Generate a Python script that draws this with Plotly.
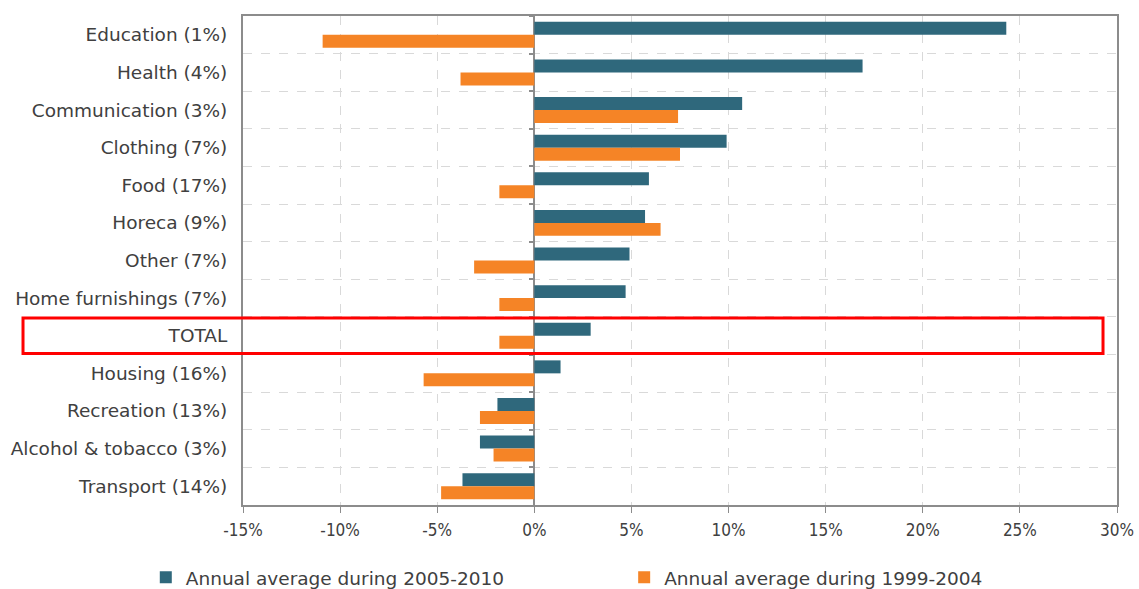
import plotly.graph_objects as go

categories = ["Education (1%)", "Health (4%)", "Communication (3%)", "Clothing (7%)",
              "Food (17%)", "Horeca (9%)", "Other (7%)", "Home furnishings (7%)",
              "TOTAL", "Housing (16%)", "Recreation (13%)", "Alcohol &amp; tobacco (3%)",
              "Transport (14%)"]
avg_2005_2010 = [24.3, 16.9, 10.7, 9.9, 5.9, 5.7, 4.9, 4.7, 2.9, 1.35, -1.9, -2.8, -3.7]
avg_1999_2004 = [-10.9, -3.8, 7.4, 7.5, -1.8, 6.5, -3.1, -1.8, -1.8, -5.7, -2.8, -2.1, -4.8]
x_ticks = [-15, -10, -5, 0, 5, 10, 15, 20, 25, 30]
x_tick_labels = [f"{t}%" for t in x_ticks]
x_range = [-15, 30]
highlight = "TOTAL"

TEAL = "#2F687C"
ORANGE = "#F58426"
FONT = "DejaVu Sans"
FONT_C = "DejaVu Sans Condensed"
FS = 18.5
TXT = "#404040"
AXC = "#8C8C8C"

n = len(categories)
y_range = [n - 0.5, -0.5]

fig = go.Figure()
fig.add_trace(go.Bar(y=categories, x=avg_2005_2010, orientation="h",
                     name="Annual average during 2005-2010", legend="legend",
                     marker=dict(color=TEAL, line=dict(width=0))))
fig.add_trace(go.Bar(y=categories, x=avg_1999_2004, orientation="h",
                     name="Annual average during 1999-2004", legend="legend2",
                     marker=dict(color=ORANGE, line=dict(width=0))))
# invisible helper trace so the category tick marks can sit on the zero line
fig.add_trace(go.Scatter(y=categories, x=[0] * n, yaxis="y2",
                         mode="markers", marker=dict(opacity=0, size=1),
                         showlegend=False, hoverinfo="skip"))

idx = categories.index(highlight)
fig.add_shape(type="rect", xref="paper", yref="y",
              x0=-0.2517, x1=0.984, y0=idx - 0.47, y1=idx + 0.47,
              line=dict(color="#FF0000", width=3), fillcolor="rgba(0,0,0,0)")

leg_common = dict(orientation="h", xref="container", yref="container",
                  xanchor="left", y=0.019, yanchor="middle",
                  font=dict(family=FONT, size=FS, color=TXT),
                  itemwidth=30, bgcolor="rgba(0,0,0,0)")

zero_pos = (0 - x_range[0]) / (x_range[1] - x_range[0])

fig.update_layout(
    width=1139, height=589,
    margin=dict(l=243, r=22, t=16, b=84, autoexpand=False),
    paper_bgcolor="white", plot_bgcolor="white",
    barmode="group", bargap=0.31, bargroupgap=0,
    font=dict(family=FONT, size=FS, color=TXT),
    showlegend=True,
    legend=dict(x=0.128, **leg_common),
    legend2=dict(x=0.548, **leg_common),
    xaxis=dict(range=x_range, tickvals=x_ticks, ticktext=x_tick_labels,
               showgrid=True, gridcolor="#D9D9D9", griddash="dash", gridwidth=1,
               zeroline=True, zerolinecolor=AXC, zerolinewidth=2,
               showline=True, linecolor=AXC, linewidth=2, mirror=True,
               ticks="outside", ticklen=6, tickcolor=AXC, tickwidth=1,
               ticklabelstandoff=3, automargin=False,
               tickfont=dict(family=FONT_C, size=17, color=TXT), fixedrange=True),
    yaxis=dict(range=y_range, type="category", tickson="boundaries",
               categoryorder="array", categoryarray=categories,
               showgrid=True, gridcolor="#D9D9D9", griddash="dash", gridwidth=1,
               showline=True, linecolor=AXC, linewidth=2, mirror=True,
               ticks="", ticklabelstandoff=10, automargin=False,
               tickfont=dict(family=FONT, size=FS, color=TXT)),
    yaxis2=dict(overlaying="y", range=y_range, anchor="free", position=zero_pos,
                side="left", type="category", tickson="boundaries",
                categoryorder="array", categoryarray=categories,
                showgrid=False, showline=False, zeroline=False,
                showticklabels=False, ticks="outside", ticklen=5,
                tickcolor=AXC, tickwidth=2, automargin=False),
)

fig.write_html("out.html")
